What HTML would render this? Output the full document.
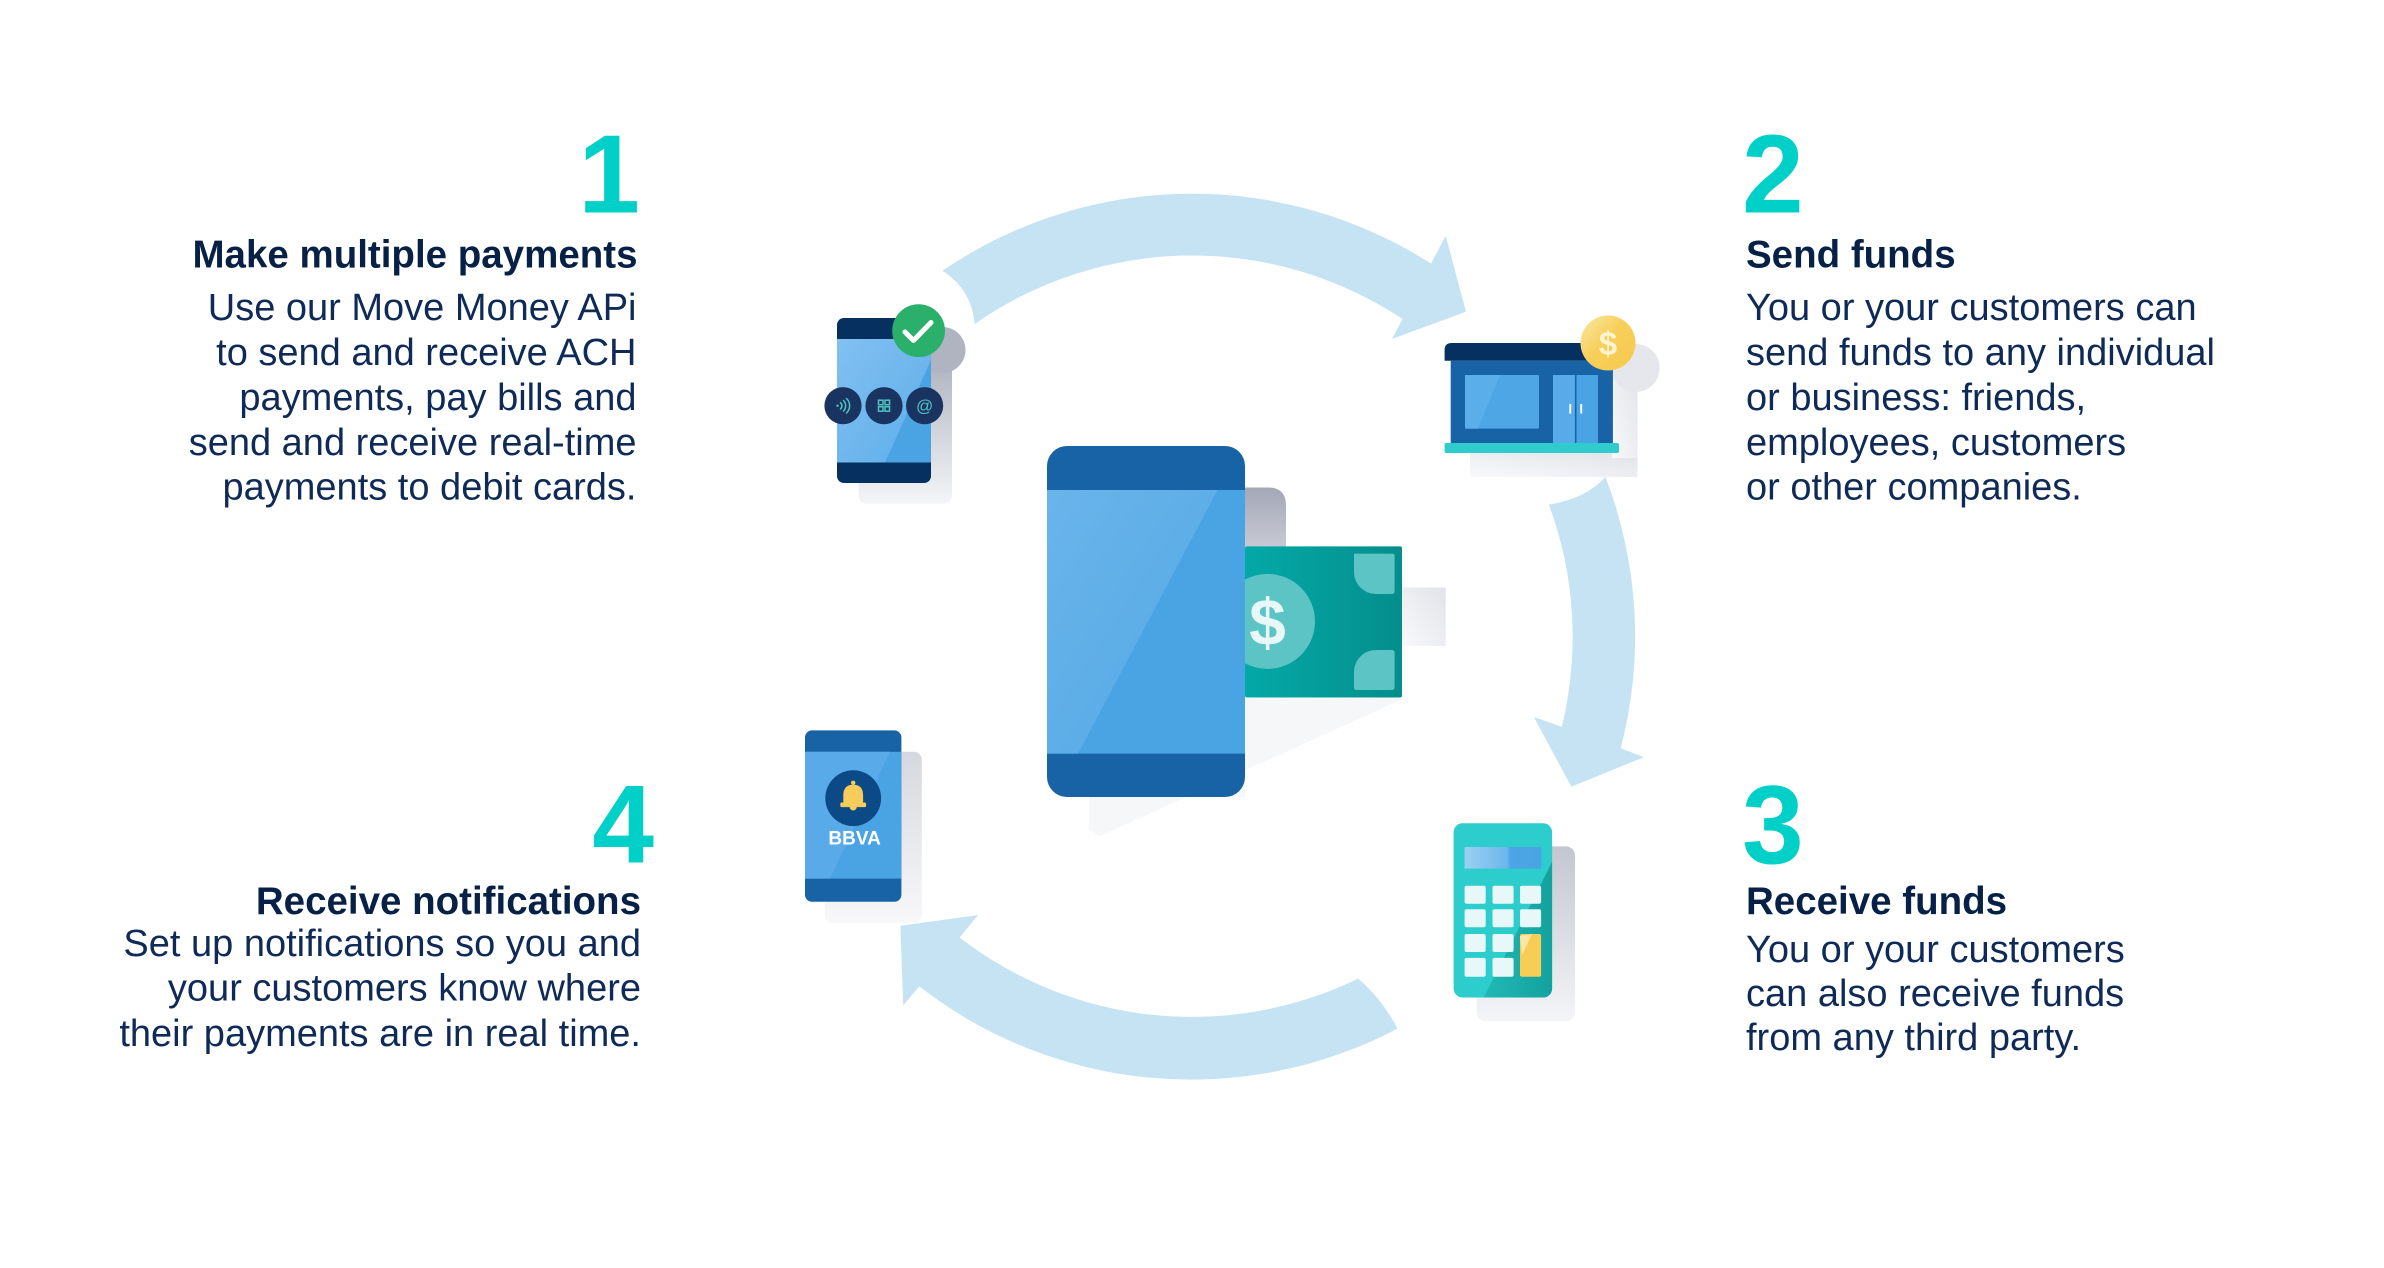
<!DOCTYPE html>
<html>
<head>
<meta charset="utf-8">
<style>
html,body{margin:0;padding:0;background:#ffffff;}
svg{display:block;}
</style>
</head>
<body>
<svg width="2384" height="1268" viewBox="0 0 2384 1268" xmlns="http://www.w3.org/2000/svg">
<defs>
  <linearGradient id="gScr1" x1="0" y1="0" x2="1" y2="1">
    <stop offset="0" stop-color="#82c0f1"/>
    <stop offset="1" stop-color="#5caee9"/>
  </linearGradient>
  <linearGradient id="gScrMain" x1="0" y1="0" x2="1" y2="1">
    <stop offset="0" stop-color="#6ab4ea"/>
    <stop offset="1" stop-color="#52a8e6"/>
  </linearGradient>
  <linearGradient id="gShadowV" x1="0" y1="0" x2="0" y2="1">
    <stop offset="0" stop-color="#a8acba"/>
    <stop offset="1" stop-color="#f4f5f7"/>
  </linearGradient>
  <linearGradient id="gShadowMain" x1="0" y1="0" x2="0" y2="1">
    <stop offset="0" stop-color="#a3a7b6"/>
    <stop offset="1" stop-color="#cfd1da"/>
  </linearGradient>
  <linearGradient id="gShadowLight" x1="1" y1="0" x2="0" y2="1">
    <stop offset="0" stop-color="#e1e3e9"/>
    <stop offset="1" stop-color="#f9f9fb"/>
  </linearGradient>
  <linearGradient id="gShadowCalc" x1="0" y1="0" x2="0" y2="1">
    <stop offset="0" stop-color="#c3c6d1"/>
    <stop offset="1" stop-color="#f4f5f7"/>
  </linearGradient>
  <linearGradient id="gShadowP4" x1="0" y1="0" x2="0" y2="1">
    <stop offset="0" stop-color="#d6d8df"/>
    <stop offset="1" stop-color="#f8f8fa"/>
  </linearGradient>
  <linearGradient id="gMoney" x1="0" y1="0" x2="1" y2="0">
    <stop offset="0" stop-color="#03a9a7"/>
    <stop offset="1" stop-color="#048e8c"/>
  </linearGradient>
  <linearGradient id="gCoin" x1="0" y1="0" x2="1" y2="1">
    <stop offset="0" stop-color="#fbe7a6"/>
    <stop offset="0.45" stop-color="#f7cf5a"/>
    <stop offset="1" stop-color="#f6c94c"/>
  </linearGradient>
  <linearGradient id="gDisp" x1="0" y1="0" x2="1" y2="0">
    <stop offset="0" stop-color="#9ad1f2"/>
    <stop offset="0.55" stop-color="#6db6eb"/>
    <stop offset="0.6" stop-color="#4ca5e5"/>
    <stop offset="1" stop-color="#4aa3e3"/>
  </linearGradient>
  <linearGradient id="gCalcDark" x1="0" y1="0" x2="1" y2="0">
    <stop offset="0" stop-color="#22b9b7"/>
    <stop offset="1" stop-color="#13a19e"/>
  </linearGradient>
  <clipPath id="calcClip">
    <rect x="1453.6" y="823.2" width="98.5" height="174.3" rx="9"/>
  </clipPath>
  <clipPath id="mainClip">
    <rect x="1047" y="446" width="198" height="351" rx="20"/>
  </clipPath>
</defs>

<!-- ===== Cycle arrows ===== -->
<g fill="#c5e3f3">
  <path d="M942.5 270.7 A443 443 0 0 1 1431 263.6 L1445.7 235.7 L1466 311.8 L1392 339 L1402.5 319 A380 380 0 0 0 974.6 324 Q972 290 942.5 270.7 Z"/>
  <path d="M1605.4 476.8 A443 443 0 0 1 1620.7 748.2 L1643.9 757.1 L1571.4 786.8 L1533.9 717.1 L1561.8 726.8 A380 380 0 0 0 1548.9 504.6 Q1587 498.5 1605.4 476.8 Z"/>
  <path d="M1397.5 1028.6 A443 443 0 0 1 919.3 986.4 L903.2 1005.4 L900.4 925.7 L978.2 915 L959.6 937.5 A380 380 0 0 0 1358.2 978.6 Q1382 999 1397.5 1028.6 Z"/>
</g>

<!-- ===== Phone 1 (top-left) ===== -->
<g>
  <rect x="858.6" y="345" width="93.4" height="158.6" rx="8" fill="url(#gShadowV)"/>
  <circle cx="942.5" cy="350" r="23" fill="#b0b3c0"/>
  <rect x="837" y="318" width="94" height="165" rx="7" fill="#06305f"/>
  <rect x="837" y="339" width="94" height="123.5" fill="#4aa3e3"/>
  <polygon points="837,339 931,339 931,360 885,462.5 837,462.5" fill="url(#gScr1)"/>
  <circle cx="918.6" cy="330.7" r="26.4" fill="#2ab06b"/>
  <path d="M905 332 L913.5 340.5 L931 322.5" fill="none" stroke="#ffffff" stroke-width="5" stroke-linecap="round" stroke-linejoin="round"/>
  <circle cx="843" cy="405.7" r="18.6" fill="#1a3461"/>
  <circle cx="884" cy="405.7" r="18.6" fill="#1a3461"/>
  <circle cx="924.6" cy="405.7" r="18.6" fill="#1a3461"/>
  <g fill="none" stroke="#55c2c2" stroke-width="1.5" stroke-linecap="round">
    <path d="M840.5 402.5 A4.5 4.5 0 0 1 840.5 409"/>
    <path d="M843.5 400.5 A7.5 7.5 0 0 1 843.5 411"/>
    <path d="M846.5 398.5 A10 10 0 0 1 846.5 413"/>
    <rect x="878.5" y="400.2" width="4.5" height="4.5"/>
    <rect x="885" y="400.2" width="4.5" height="4.5"/>
    <rect x="878.5" y="406.7" width="4.5" height="4.5"/>
    <rect x="885" y="406.7" width="4.5" height="4.5"/>
  </g>
  <circle cx="837.5" cy="405.7" r="1.2" fill="#55c2c2"/>
  <text x="924.6" y="411.5" text-anchor="middle" font-family="'Liberation Sans', sans-serif" font-size="17" fill="#55c2c2">@</text>
</g>

<!-- ===== Store (top-right) ===== -->
<g>
  <rect x="1470" y="453" width="167.5" height="24" fill="url(#gShadowLight)"/>
  <rect x="1612" y="368" width="25.5" height="90" fill="url(#gShadowLight)"/>
  <circle cx="1635.7" cy="368" r="24" fill="#e6e7ec"/>
  <path d="M1444.6 360.7 V350 Q1444.6 343 1451.6 343 H1613 V360.7 Z" fill="#06305f"/>
  <rect x="1450.7" y="360.7" width="162.2" height="82.3" fill="#1763a6"/>
  <rect x="1465" y="375" width="74" height="53.6" rx="1.5" fill="#4ea6e5"/>
  <polygon points="1465,375 1500,375 1478,428.6 1465,428.6" fill="#5aaeea"/>
  <rect x="1553" y="375" width="45" height="68" fill="#4aa3e3"/>
  <rect x="1553" y="375" width="22.7" height="68" fill="#58abe8"/>
  <line x1="1575.7" y1="375" x2="1575.7" y2="443" stroke="#1763a6" stroke-width="1.6"/>
  <rect x="1569.3" y="404" width="1.9" height="9.6" fill="#ffffff"/>
  <rect x="1580.3" y="404" width="1.9" height="9.6" fill="#ffffff"/>
  <rect x="1444.6" y="443" width="174.4" height="10" rx="2" fill="#2ecccd"/>
  <circle cx="1608" cy="343" r="27.5" fill="url(#gCoin)"/>
  <text x="1608" y="355" text-anchor="middle" font-family="'Liberation Sans', sans-serif" font-weight="bold" font-size="33" fill="#fff4d2">$</text>
</g>

<!-- ===== Main phone + money ===== -->
<g>
  <polygon points="1089,797 1089,830 1100,836 1405,698 1245,698 1245,797" fill="#f6f7f9"/>
  <rect x="1402" y="587.5" width="43.7" height="58.5" fill="url(#gShadowLight)"/>
  <path d="M1245 487.5 H1268 Q1286 487.5 1286 505.5 V560 H1245 Z" fill="url(#gShadowMain)"/>
  <rect x="1245" y="546.4" width="157" height="151.1" rx="2" fill="url(#gMoney)"/>
  <circle cx="1267.5" cy="621.4" r="47.5" fill="#5cc4c4"/>
  <text x="1267.5" y="645" text-anchor="middle" font-family="'Liberation Sans', sans-serif" font-weight="bold" font-size="66" fill="#e8f8f8">$</text>
  <path d="M1354 553.6 H1392 Q1394.6 553.6 1394.6 556 V591.5 Q1394.6 594 1392 594 H1376 A22 22 0 0 1 1354 572 Z" fill="#5cc4c4"/>
  <path d="M1376 650 H1392 Q1394.6 650 1394.6 652.5 V687.5 Q1394.6 690 1392 690 H1356.5 Q1354 690 1354 687.5 V672 A22 22 0 0 1 1376 650 Z" fill="#5cc4c4"/>
  <rect x="1047" y="446" width="198" height="351" rx="20" fill="#1763a6"/>
  <g clip-path="url(#mainClip)">
    <rect x="1047" y="490" width="198" height="263.6" fill="#4aa4e4"/>
    <polygon points="1047,490 1217.5,490 1078,753.6 1047,753.6" fill="url(#gScrMain)"/>
  </g>
</g>

<!-- ===== Phone 4 (bottom-left) ===== -->
<g>
  <rect x="824.6" y="751.8" width="97.2" height="171.2" rx="8" fill="url(#gShadowP4)"/>
  <rect x="805" y="730.4" width="96.4" height="171.4" rx="7" fill="#1763a6"/>
  <rect x="805" y="751.8" width="96.4" height="126.8" fill="#4aa3e3"/>
  <polygon points="805,751.8 890,751.8 830,878.6 805,878.6" fill="#58abe8"/>
  <circle cx="853.2" cy="798.2" r="27.9" fill="#0b4a87"/>
  <g fill="#f7cc5a">
    <circle cx="853.2" cy="782.8" r="2.2"/>
    <path d="M843.3 804 V795.5 Q843.3 784.8 853.2 784.8 Q863.1 784.8 863.1 795.5 V804 Z"/>
    <rect x="840.3" y="802.5" width="25.8" height="4.6" rx="1.5"/>
    <path d="M849.7 807 H856.7 A3.5 3.5 0 0 1 849.7 807 Z"/>
  </g>
  <text x="854.6" y="844.6" text-anchor="middle" font-family="'Liberation Sans', sans-serif" font-weight="bold" font-size="19" fill="#ffffff">BBVA</text>
</g>

<!-- ===== Calculator (bottom-right) ===== -->
<g>
  <rect x="1476.8" y="846.4" width="98.2" height="175" rx="9" fill="url(#gShadowCalc)"/>
  <rect x="1453.6" y="823.2" width="98.5" height="174.3" rx="9" fill="#2ecdcd"/>
  <polygon clip-path="url(#calcClip)" points="1553,860 1553,999 1483,999" fill="url(#gCalcDark)"/>
  <rect x="1464.6" y="847" width="76.8" height="21.6" fill="url(#gDisp)"/>
  <g fill="#e8f8f8">
    <rect x="1464.6" y="885.7" width="21.1" height="18" rx="2"/>
    <rect x="1492.5" y="885.7" width="21.1" height="18" rx="2"/>
    <rect x="1520" y="885.7" width="21.1" height="18" rx="2"/>
    <rect x="1464.6" y="909.3" width="21.1" height="18" rx="2"/>
    <rect x="1492.5" y="909.3" width="21.1" height="18" rx="2"/>
    <rect x="1520" y="909.3" width="21.1" height="18" rx="2"/>
    <rect x="1464.6" y="934" width="21.1" height="18" rx="2"/>
    <rect x="1492.5" y="934" width="21.1" height="18" rx="2"/>
    <rect x="1464.6" y="957.9" width="21.1" height="18.9" rx="2"/>
    <rect x="1492.5" y="957.9" width="21.1" height="18.9" rx="2"/>
  </g>
  <rect x="1520" y="934" width="21.1" height="42.8" rx="2" fill="#f7cd55"/>
  <polygon points="1520,936 1532,934 1522,955" fill="#fbe6a6"/>
</g>

<!-- ===== Text ===== -->
<g font-family="'Liberation Sans', sans-serif">
  <!-- Block 1 -->
  <text x="640" y="212.7" text-anchor="end" font-weight="bold" font-size="111" fill="#00d0c8">1</text>
  <text x="637.5" y="267.7" text-anchor="end" font-weight="bold" font-size="38.5" fill="#072146">Make multiple payments</text>
  <g text-anchor="end" font-size="38" fill="#0f2a56">
    <text x="636.5" y="320">Use our Move Money APi</text>
    <text x="636.5" y="365">to send and receive ACH</text>
    <text x="636.5" y="410">payments, pay bills and</text>
    <text x="636.5" y="455">send and receive real-time</text>
    <text x="636.5" y="499.5">payments to debit cards.</text>
  </g>

  <!-- Block 2 -->
  <text x="1742" y="212.7" font-weight="bold" font-size="111" fill="#00d0c8">2</text>
  <text x="1746" y="267.7" font-weight="bold" font-size="38.5" fill="#072146">Send funds</text>
  <g font-size="38" fill="#0f2a56">
    <text x="1746" y="320">You or your customers can</text>
    <text x="1746" y="365">send funds to any individual</text>
    <text x="1746" y="410">or business: friends,</text>
    <text x="1746" y="455">employees, customers</text>
    <text x="1746" y="499.5">or other companies.</text>
  </g>

  <!-- Block 4 -->
  <text x="654" y="862.7" text-anchor="end" font-weight="bold" font-size="111" fill="#00d0c8">4</text>
  <text x="641" y="914" text-anchor="end" font-weight="bold" font-size="38.5" fill="#072146">Receive notifications</text>
  <g text-anchor="end" font-size="38" fill="#0f2a56">
    <text x="641" y="956">Set up notifications so you and</text>
    <text x="641" y="1000.7">your customers know where</text>
    <text x="641" y="1046">their payments are in real time.</text>
  </g>

  <!-- Block 3 -->
  <text x="1742" y="863.3" font-weight="bold" font-size="111" fill="#00d0c8">3</text>
  <text x="1746" y="914" font-weight="bold" font-size="38.5" fill="#072146">Receive funds</text>
  <g font-size="38" fill="#0f2a56">
    <text x="1746" y="962">You or your customers</text>
    <text x="1746" y="1006">can also receive funds</text>
    <text x="1746" y="1050">from any third party.</text>
  </g>
</g>
</svg>
</body>
</html>
